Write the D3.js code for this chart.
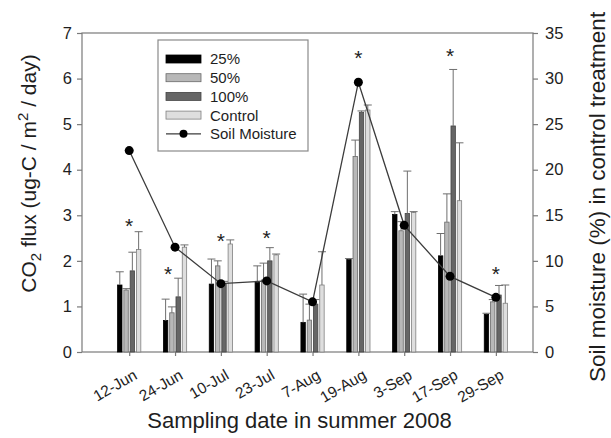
<!DOCTYPE html>
<html>
<head>
<meta charset="utf-8">
<script src="https://cdn.jsdelivr.net/npm/d3@7"></script>
<style>
  body { margin: 0; background: #fff; }
  svg { font-family: Arial, "Liberation Sans", sans-serif; }
</style>
</head>
<body>
<div id="chart"></div>
<script>
// sampling dates (categories)
var dates = ["12-Jun", "24-Jun", "10-Jul", "23-Jul", "7-Aug", "19-Aug", "3-Sep", "17-Sep", "29-Sep"];

// CO2 flux means and standard errors per treatment
var flux25 = [1.47, 0.69, 1.49, 1.53, 0.65, 2.03, 3.02, 2.11, 0.83];
var se25 = [0.29, 0.47, 0.55, 0.36, 0.62, 0.02, 0.06, 0.49, 0.02];
var flux50 = [1.36, 0.86, 1.89, 1.58, 0.70, 4.29, 2.66, 2.85, 1.10];
var se50 = [0.03, 0.13, 0.11, 0.37, 0.35, 0.36, 0.20, 0.62, 0.05];
var flux100 = [1.78, 1.21, 1.50, 2.00, 1.05, 5.26, 3.04, 4.96, 1.25];
var se100 = [0.41, 0.41, 0.05, 0.29, 0.10, 0.03, 0.93, 1.24, 0.21];
var fluxCtrl = [2.25, 2.30, 2.37, 2.13, 1.47, 5.31, 3.06, 3.32, 1.07];
var seCtrl = [0.39, 0.05, 0.09, 0.02, 0.73, 0.11, 0.02, 1.27, 0.40];

// soil moisture (%) in control treatment
var soil = [22.1, 11.5, 7.5, 7.8, 5.5, 29.6, 13.9, 8.3, 6.0];

// significance asterisks: category position and flux level
var starPos = [0, 0.85, 2, 3, 5, 7, 8];
var starFlux = [2.86, 1.81, 2.53, 2.60, 6.54, 6.59, 1.81];

var leftTicks = [0, 1, 2, 3, 4, 5, 6, 7];
var rightTicks = [0, 5, 10, 15, 20, 25, 30, 35];

var series = [
    {name: "25%", mean: flux25, se: se25, fill: "#000000", stroke: "#000000"},
    {name: "50%", mean: flux50, se: se50, fill: "#b8b8b8", stroke: "#6a6a6a"},
    {name: "100%", mean: flux100, se: se100, fill: "#666666", stroke: "#444444"},
    {name: "Control", mean: fluxCtrl, se: seCtrl, fill: "#dedede", stroke: "#808080"}
];

var W = 611, H = 438;
var margin = {top: 33, right: 78, bottom: 86, left: 82};
var width = W - margin.left - margin.right,
    height = H - margin.top - margin.bottom;

var svg = d3.select("#chart").append("svg")
    .attr("width", W)
    .attr("height", H);

var g = svg.append("g")
    .attr("transform", "translate(" + margin.left + "," + margin.top + ")");

// scales
var x = d3.scaleLinear().domain([-1.03, 8.81]).range([0, width]);
var y = d3.scaleLinear().domain([0, 7]).range([height, 0]);
var y2 = d3.scaleLinear().domain([0, 35]).range([height, 0]);
var xb = d3.scaleBand().domain(series.map(function(s) { return s.name; }))
    .range([-13.5, 13.5]).padding(0.3);

var axisColor = "#7a7a7a";
var textColor = "#1e1e1e";

// frame
g.append("rect")
    .attr("width", width).attr("height", height)
    .attr("fill", "none").attr("stroke", axisColor).attr("stroke-width", 1.2);

// left axis
var yAxis = g.append("g").call(d3.axisLeft(y).tickValues(leftTicks).tickSize(5).tickPadding(5).tickFormat(d3.format("d")));
// right axis
var y2Axis = g.append("g").attr("transform", "translate(" + width + ",0)")
    .call(d3.axisRight(y2).tickValues(rightTicks).tickSize(5).tickPadding(7).tickFormat(d3.format("d")));
// bottom axis
var xAxis = g.append("g").attr("transform", "translate(0," + height + ")")
    .call(d3.axisBottom(x).tickValues(d3.range(dates.length)).tickSize(4).tickFormat(function(i) { return dates[i]; }));

[yAxis, y2Axis, xAxis].forEach(function(a) {
    a.select(".domain").remove();
    a.selectAll(".tick line").attr("stroke", axisColor).attr("stroke-width", 1.2);
    a.selectAll(".tick text").attr("fill", textColor).style("font-size", "16.5px");
});

xAxis.selectAll(".tick text")
    .style("font-size", "15.5px")
    .attr("text-anchor", "end")
    .attr("dy", null)
    .attr("transform", "translate(5,20) rotate(-30)");

// bars
series.forEach(function(s) {
    var bars = g.append("g");
    bars.selectAll("rect").data(s.mean).enter().append("rect")
        .attr("x", function(d, i) { return x(i) + xb(s.name); })
        .attr("y", function(d) { return y(d); })
        .attr("width", xb.bandwidth())
        .attr("height", function(d) { return height - y(d); })
        .attr("fill", s.fill)
        .attr("stroke", s.stroke)
        .attr("stroke-width", 0.8);

    // error bars (upper only)
    var eb = g.append("g").attr("stroke", "#6e6e6e").attr("stroke-width", 1);
    s.mean.forEach(function(m, i) {
        var cx = x(i) + xb(s.name) + xb.bandwidth() / 2;
        eb.append("line")
            .attr("x1", cx).attr("x2", cx)
            .attr("y1", y(m)).attr("y2", y(m + s.se[i]));
        eb.append("line")
            .attr("x1", cx - 4).attr("x2", cx + 4)
            .attr("y1", y(m + s.se[i])).attr("y2", y(m + s.se[i]));
    });
});

// soil moisture line
var line = d3.line()
    .x(function(d, i) { return x(i); })
    .y(function(d) { return y2(d); });

g.append("path")
    .datum(soil)
    .attr("d", line)
    .attr("fill", "none")
    .attr("stroke", "#3c3c3c")
    .attr("stroke-width", 1.3);

g.selectAll(".dot").data(soil).enter().append("circle")
    .attr("class", "dot")
    .attr("cx", function(d, i) { return x(i); })
    .attr("cy", function(d) { return y2(d); })
    .attr("r", 4.5)
    .attr("fill", "#000");

// asterisks
g.selectAll(".star").data(starPos).enter().append("text")
    .attr("class", "star")
    .attr("x", function(d) { return x(d); })
    .attr("y", function(d, i) { return y(starFlux[i]) + 11; })
    .attr("text-anchor", "middle")
    .attr("fill", textColor)
    .style("font-size", "21px")
    .text("*");

// legend
var legend = g.append("g").attr("transform", "translate(76,7)");
legend.append("rect")
    .attr("width", 150).attr("height", 111)
    .attr("fill", "#fff").attr("stroke", "#8a8a8a").attr("stroke-width", 1.2);

var legItems = series.map(function(s) { return s; }).concat([{name: "Soil Moisture", line: true}]);
var leg = legend.selectAll(".leg").data(legItems).enter().append("g")
    .attr("transform", function(d, i) { return "translate(8," + (19 + i * 18.7) + ")"; });

leg.filter(function(d) { return !d.line; }).append("rect")
    .attr("x", 0).attr("y", -4).attr("width", 35).attr("height", 8)
    .attr("fill", function(d) { return d.fill; })
    .attr("stroke", function(d) { return d.stroke; })
    .attr("stroke-width", 0.8);

var soilLeg = leg.filter(function(d) { return d.line; });
soilLeg.append("line")
    .attr("x1", 0).attr("x2", 35).attr("y1", 0).attr("y2", 0)
    .attr("stroke", "#3c3c3c").attr("stroke-width", 1.3);
soilLeg.append("circle")
    .attr("cx", 17.5).attr("cy", 0).attr("r", 4).attr("fill", "#000");

leg.append("text")
    .attr("x", 44).attr("y", 0).attr("dy", "0.36em")
    .attr("fill", textColor)
    .style("font-size", "15px")
    .text(function(d) { return d.name; });

// axis titles
var leftTitle = svg.append("text")
    .attr("transform", "translate(36," + (margin.top + height / 2 - 19) + ") rotate(-90)")
    .attr("text-anchor", "middle")
    .attr("fill", textColor)
    .style("font-size", "21px");
leftTitle.append("tspan").text("CO");
leftTitle.append("tspan").attr("dy", 5).style("font-size", "15px").text("2");
leftTitle.append("tspan").attr("dy", -5).text(" flux (ug-C / m");
leftTitle.append("tspan").attr("dy", -8).style("font-size", "15px").text("2");
leftTitle.append("tspan").attr("dy", 8).text(" / day)");

svg.append("text")
    .attr("transform", "translate(605,382) rotate(-90)")
    .attr("text-anchor", "start")
    .attr("fill", textColor)
    .style("font-size", "22.5px")
    .text("Soil moisture (%) in control treatment");

svg.append("text")
    .attr("x", margin.left + width / 2 - 8)
    .attr("y", 428)
    .attr("text-anchor", "middle")
    .attr("fill", textColor)
    .style("font-size", "22px")
    .text("Sampling date in summer 2008");
</script>
</body>
</html>
